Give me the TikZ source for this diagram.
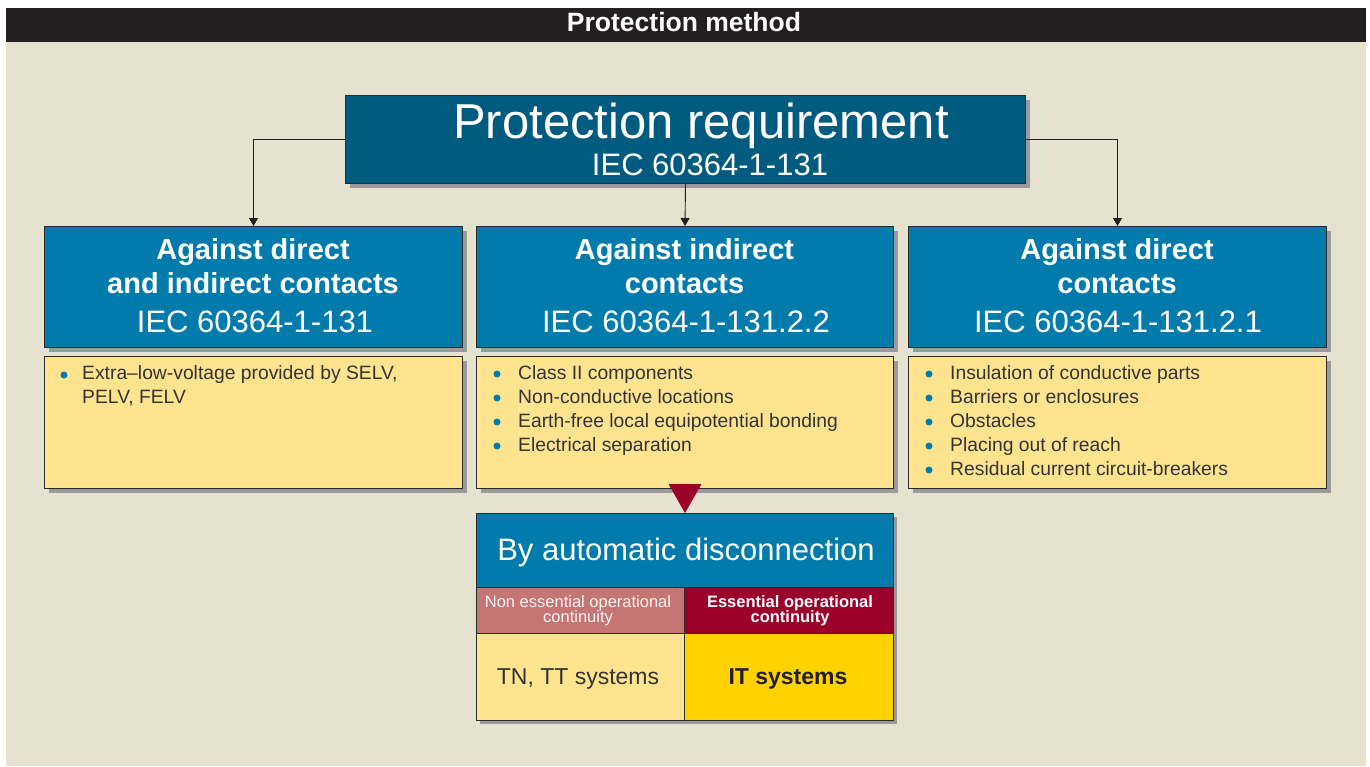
\documentclass[tikz,border=0pt]{standalone}
\usepackage{fontspec}
\setmainfont{Liberation Sans}
\usetikzlibrary{arrows.meta,shadows}
\definecolor{bgc}{HTML}{E6E2D0}
\definecolor{barc}{HTML}{231F20}
\definecolor{tealc}{HTML}{005B7F}
\definecolor{bluec}{HTML}{007BAC}
\definecolor{yelc}{HTML}{FFE48F}
\definecolor{goldc}{HTML}{FFD200}
\definecolor{pinkc}{HTML}{C57674}
\definecolor{redc}{HTML}{9B0029}
\definecolor{shadc}{HTML}{9A9A9A}
\definecolor{bordc}{HTML}{2A2A2A}
\definecolor{txtc}{HTML}{333333}
\tikzset{
  box/.style={draw=bordc, line width=1pt, inner sep=0pt, anchor=north west,
    drop shadow={shadow xshift=4pt, shadow yshift=-4pt, fill=shadc, opacity=1}},
  cell/.style={draw=bordc, line width=1pt, inner sep=0pt, anchor=north west},
  conn/.style={draw=barc, line width=0.9pt, -{Triangle[width=9pt,length=8pt]}},
  wt/.style={anchor=base, text=white, inner sep=0pt},
  dk/.style={anchor=base west, text=txtc, inner sep=0pt, font=\fontsize{19.3}{19.3}\selectfont},
  dotc/.style={fill=bluec},
}
\begin{document}
\begin{tikzpicture}[x=1pt,y=-1pt]
\useasboundingbox (0,0) rectangle (1370,766);
\fill[white] (0,0) rectangle (1370,766);
\fill[bgc] (6,42) rectangle (1366,766);
\node[fill=barc, inner sep=0pt, anchor=north west, minimum width=1360pt, minimum height=34pt] (bar) at (6,8) {};
\node[wt, font=\bfseries\fontsize{26.5}{26.5}\selectfont] (title) at (684,31) {Protection method};

% top box
\node[box, fill=tealc, minimum width=680pt, minimum height=88pt] (req) at (345,95) {};
\node[wt, font=\fontsize{49}{49}\selectfont] (reqt) at (701,138) {Protection requirement};
\node[wt, font=\fontsize{31}{31}\selectfont] (reqn) at (710,175) {IEC 60364-1-131};

% blue boxes
\node[box, fill=bluec, minimum width=418pt, minimum height=121pt] (b1) at (44,226) {};
\node[box, fill=bluec, minimum width=417pt, minimum height=121pt] (b2) at (476,226) {};
\node[box, fill=bluec, minimum width=418pt, minimum height=121pt] (b3) at (908,226) {};

\node[wt, font=\bfseries\fontsize{29}{29}\selectfont] (b1a) at (253,259) {Against direct};
\node[wt, font=\bfseries\fontsize{29}{29}\selectfont] (b1b) at (253,293) {and indirect contacts};
\node[wt, font=\fontsize{31}{31}\selectfont] (b1c) at (255,332) {IEC 60364-1-131};

\node[wt, font=\bfseries\fontsize{29}{29}\selectfont] (b2a) at (684.5,259) {Against indirect};
\node[wt, font=\bfseries\fontsize{29}{29}\selectfont] (b2b) at (684.5,293) {contacts};
\node[wt, font=\fontsize{31}{31}\selectfont] (b2c) at (686,332) {IEC 60364-1-131.2.2};

\node[wt, font=\bfseries\fontsize{29}{29}\selectfont] (b3a) at (1117,259) {Against direct};
\node[wt, font=\bfseries\fontsize{29}{29}\selectfont] (b3b) at (1117,293) {contacts};
\node[wt, font=\fontsize{31}{31}\selectfont] (b3c) at (1118,332) {IEC 60364-1-131.2.1};

% connectors
\draw[conn] (req.west) -| (b1.north);
\draw[conn] (req.south) -- (b2.north);
\draw[conn] (req.east) -| (b3.north);

% yellow boxes
\node[box, fill=yelc, minimum width=418pt, minimum height=132pt] (y1) at (44,356) {};
\node[box, fill=yelc, minimum width=417pt, minimum height=132pt] (y2) at (476,356) {};
\node[box, fill=yelc, minimum width=418pt, minimum height=132pt] (y3) at (908,356) {};

\fill[dotc] (64,375) circle (3.5);
\node[dk] (y1t1) at (82,379) {Extra–low-voltage provided by SELV,};
\node[dk] (y1t2) at (82,403) {PELV, FELV};

\foreach \t [count=\i] in {Class II components, Non-conductive locations, Earth-free local equipotential bonding, Electrical separation}{
  \fill[dotc] (497,{374+24*(\i-1)}) circle (3.5);
  \node[dk] (y2t\i) at (518,{379+24*(\i-1)}) {\t};
}
\foreach \t [count=\i] in {Insulation of conductive parts, Barriers or enclosures, Obstacles, Placing out of reach, Residual current circuit-breakers}{
  \fill[dotc] (929,{374+24*(\i-1)}) circle (3.5);
  \node[dk] (y3t\i) at (950,{379+24*(\i-1)}) {\t};
}

% bottom group
\fill[shadc] (480,517) rectangle (897,724);
\node[cell, fill=bluec, minimum width=417pt, minimum height=74pt] (auto) at (476,513) {};
\node[cell, fill=pinkc, minimum width=208pt, minimum height=46pt] (c1) at (476,587) {};
\node[cell, fill=redc, minimum width=209pt, minimum height=46pt] (c2) at (684,587) {};
\node[cell, fill=yelc, minimum width=208pt, minimum height=87pt] (c3) at (476,633) {};
\node[cell, fill=goldc, minimum width=209pt, minimum height=87pt] (c4) at (684,633) {};

\node[wt, font=\fontsize{31}{31}\selectfont] (autot) at (686,560) {By automatic disconnection};
\node[wt, text=white!92!pinkc, font=\fontsize{16.5}{16.5}\selectfont] (c1a) at (578,607) {Non essential operational};
\node[wt, text=white!92!pinkc, font=\fontsize{16.5}{16.5}\selectfont] (c1b) at (578,622) {continuity};
\node[wt, font=\bfseries\fontsize{16.5}{16.5}\selectfont] (c2a) at (790,607) {Essential operational};
\node[wt, font=\bfseries\fontsize{16.5}{16.5}\selectfont] (c2b) at (790,622) {continuity};
\node[wt, text=txtc, font=\fontsize{23}{23}\selectfont] (c3t) at (578,684) {TN, TT systems};
\node[wt, text=barc, font=\bfseries\fontsize{23}{23}\selectfont] (c4t) at (788,684) {IT systems};

% triangle
\fill[redc] ([xshift=-16.5pt,yshift=5pt]y2.south) -- ([xshift=16.5pt,yshift=5pt]y2.south) -- (auto.north) -- cycle;
\end{tikzpicture}
\end{document}
